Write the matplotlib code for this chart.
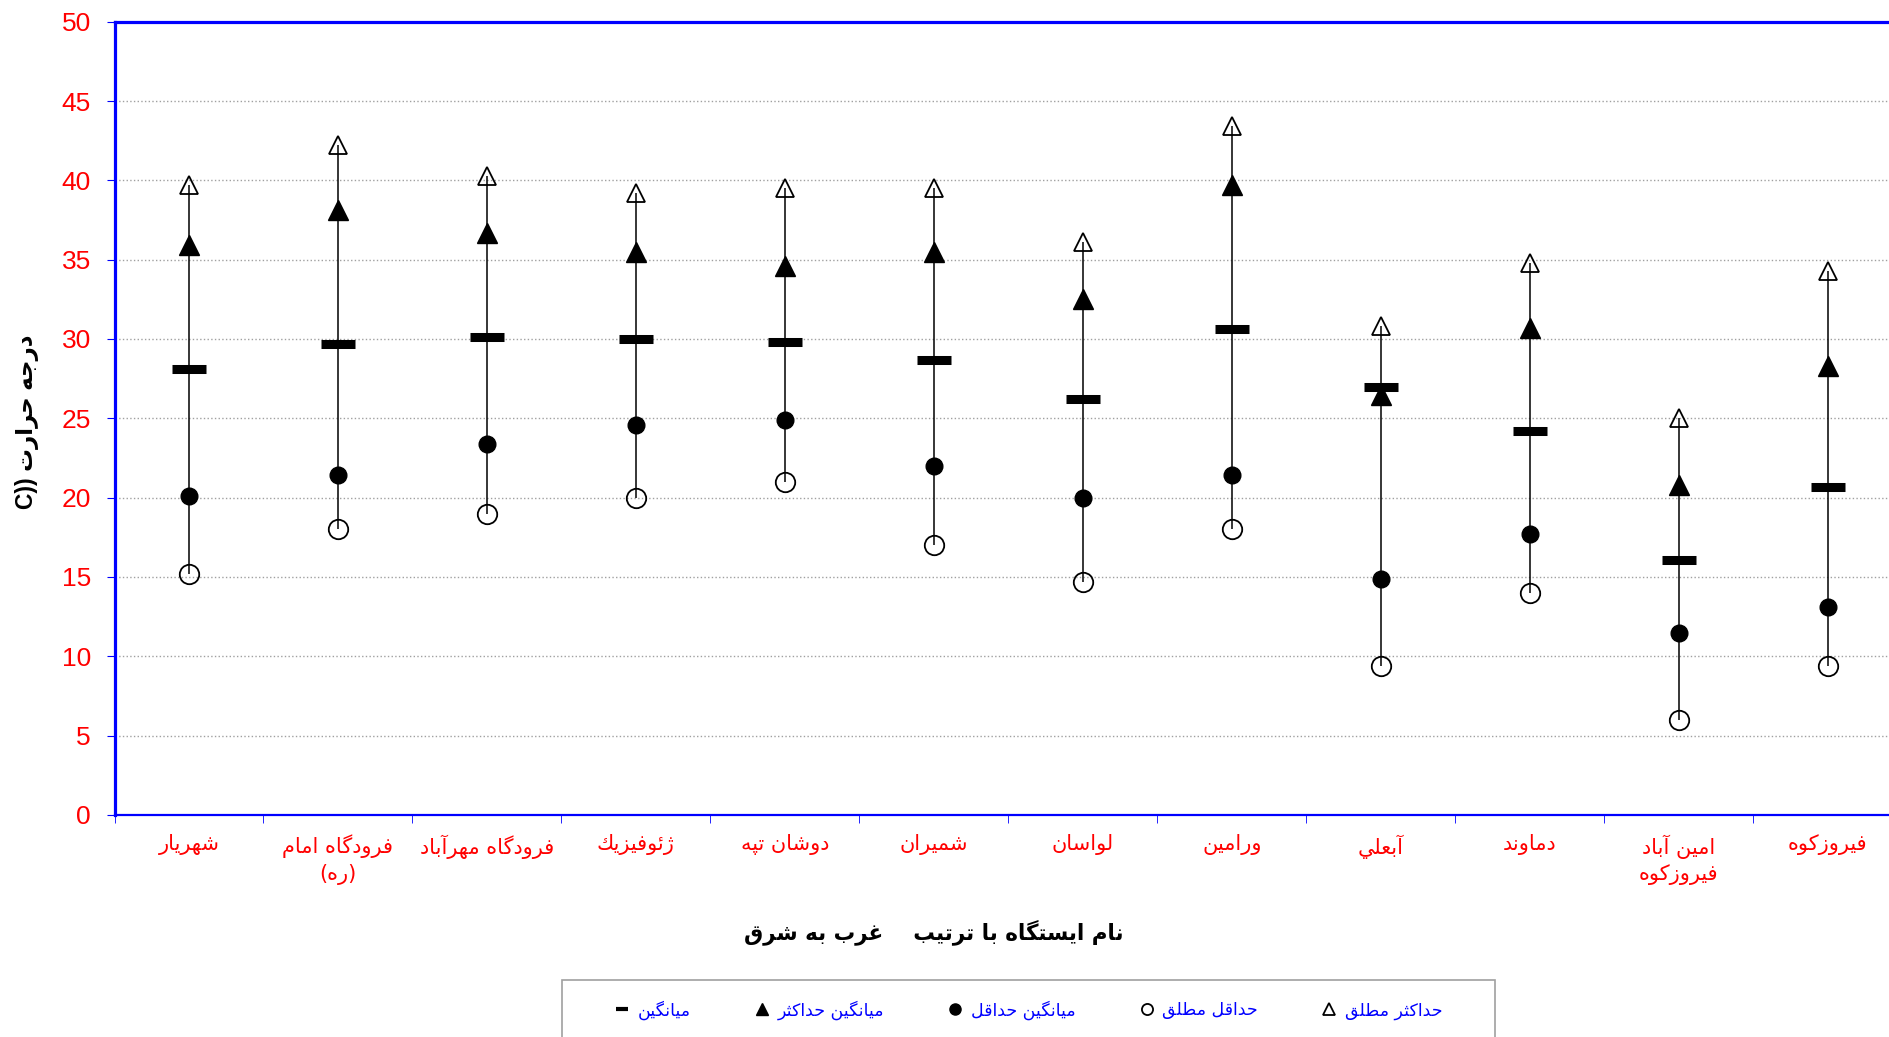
import numpy as np
import matplotlib.pyplot as plt
from matplotlib.patches import Rectangle
from matplotlib.lines import Line2D

# station names (west to east)
stations = ['شهريار', 'فرودگاه امام\n(ره)', 'فرودگاه مهرآباد', 'ژئوفيزيك',
            'دوشان تپه', 'شميران', 'لواسان', 'ورامين', 'آبعلي', 'دماوند',
            'امين آباد\nفيروزكوه', 'فيروزكوه']

abs_max = [39.7, 42.2, 40.3, 39.2, 39.5, 39.5, 36.1, 43.4, 30.8, 34.8, 25.0, 34.3]
mean_max = [35.9, 38.1, 36.7, 35.5, 34.6, 35.5, 32.5, 39.7, 26.5, 30.7, 20.8, 28.3]
mean_all = [28.1, 29.7, 30.1, 30.0, 29.8, 28.7, 26.2, 30.6, 27.0, 24.2, 16.1, 20.7]
mean_min = [20.1, 21.4, 23.4, 24.6, 24.9, 22.0, 20.0, 21.4, 14.9, 17.7, 11.5, 13.1]
abs_min = [15.2, 18.0, 19.0, 20.0, 21.0, 17.0, 14.7, 18.0, 9.4, 14.0, 6.0, 9.4]

legend_names = ['ميانگين', 'ميانگين حداكثر', 'ميانگين حداقل', 'حداقل مطلق', 'حداكثر مطلق']
xlabel = 'نام ايستگاه با ترتيب    غرب به شرق'
ylabel = 'درجه حرارت C))'

# --- tiny arabic shaper (matplotlib has no shaping / bidi) ---
FORMS = {'ء': (0xFE80,), 'آ': (0xFE81, 0xFE82), 'أ': (0xFE83, 0xFE84),
         'ؤ': (0xFE85, 0xFE86), 'إ': (0xFE87, 0xFE88),
         'ئ': (0xFE89, 0xFE8A, 0xFE8B, 0xFE8C), 'ا': (0xFE8D, 0xFE8E)}
start = 0xFE8F
for ch, n in [('ب', 4), ('ة', 2), ('ت', 4), ('ث', 4), ('ج', 4), ('ح', 4), ('خ', 4),
              ('د', 2), ('ذ', 2), ('ر', 2), ('ز', 2), ('س', 4), ('ش', 4), ('ص', 4),
              ('ض', 4), ('ط', 4), ('ظ', 4), ('ع', 4), ('غ', 4), ('ف', 4), ('ق', 4),
              ('ك', 4), ('ل', 4), ('م', 4), ('ن', 4), ('ه', 4), ('و', 2), ('ى', 2),
              ('ي', 4)]:
    FORMS[ch] = tuple(range(start, start + n))
    start += n
FORMS['پ'] = (0xFB56, 0xFB57, 0xFB58, 0xFB59)
FORMS['چ'] = (0xFB7A, 0xFB7B, 0xFB7C, 0xFB7D)
FORMS['ژ'] = (0xFB8A, 0xFB8B)
FORMS['گ'] = (0xFB92, 0xFB93, 0xFB94, 0xFB95)
FORMS['ک'] = (0xFB8E, 0xFB8F, 0xFB90, 0xFB91)
FORMS['ی'] = (0xFBFC, 0xFBFD, 0xFBFE, 0xFBFF)


def shape(word):
    out = []
    for i, ch in enumerate(word):
        f = FORMS.get(ch)
        if f is None or len(f) == 1:
            out.append(ch if f is None else chr(f[0]))
            continue
        prev = word[i - 1] if i > 0 else ''
        nxt = word[i + 1] if i < len(word) - 1 else ''
        jp = prev in FORMS and len(FORMS[prev]) == 4
        jn = len(f) == 4 and nxt in FORMS and len(FORMS[nxt]) > 1
        if jp and jn:
            out.append(chr(f[3]))
        elif jp:
            out.append(chr(f[1]))
        elif jn:
            out.append(chr(f[2]))
        else:
            out.append(chr(f[0]))
    return ''.join(out)


def rtl(text):
    mirror = str.maketrans('()', ')(')
    lines = []
    for line in text.split('\n'):
        vis = []
        for w in reversed(line.split(' ')):
            if any(c in FORMS for c in w):
                vis.append(shape(w)[::-1].translate(mirror))
            else:
                vis.append(w)
        lines.append(' '.join(vis))
    return '\n'.join(lines)


plt.rcParams['font.family'] = ['Liberation Sans', 'DejaVu Sans']

fig = plt.figure(figsize=(18.9, 10.37), dpi=100)
ax = fig.add_axes([0.0606, 0.2141, 0.9458, 0.765])

x = np.arange(len(stations))
ax.vlines(x, abs_min, abs_max, color='black', lw=1.1, zorder=3)
ax.plot(x, abs_max, ls='none', marker='^', ms=13.5, mfc='none', mec='black', mew=1.3, zorder=4)
ax.plot(x, abs_min, ls='none', marker='o', ms=14, mfc='none', mec='black', mew=1.3, zorder=4)
ax.plot(x, mean_min, ls='none', marker='o', ms=12, color='black', zorder=4)
ax.plot(x, mean_max, ls='none', marker='^', ms=15, color='black', zorder=4)
ax.plot(x, mean_all, ls='none', marker='_', ms=25, mew=6.5, color='black', zorder=5)

ax.set_xlim(-0.5, len(stations) - 0.5)
ax.set_ylim(0, 50)
ax.set_yticks(np.arange(0, 51, 5))
ax.yaxis.grid(True, color='#a0a0a0', ls=':', lw=1)
ax.set_axisbelow(True)

ax.set_xticks(x)
ax.set_xticklabels([rtl(s) for s in stations], color='red', fontsize=15,
                   family=['DejaVu Sans'], linespacing=1.35)
ax.set_xticks(np.arange(-0.5, len(stations), 1), minor=True)
ax.tick_params(axis='x', which='major', length=0, pad=14)
ax.tick_params(axis='x', which='minor', length=6, color='blue', direction='out')
ax.tick_params(axis='y', length=6, color='blue', direction='out', labelcolor='red',
               labelsize=19, pad=11)

for side in ['left', 'top']:
    ax.spines[side].set_color('blue')
    ax.spines[side].set_linewidth(2.3)
ax.spines['bottom'].set_color('blue')
ax.spines['bottom'].set_linewidth(1.6)
ax.spines['right'].set_visible(False)

fig.text(934 / 1890, 1 - 932 / 1037, rtl(xlabel), ha='center', va='center',
         fontsize=15.5, fontweight='bold', family=['DejaVu Sans'])
fig.text(27 / 1890, 1 - 422 / 1037, rtl(ylabel), ha='center', va='center',
         rotation=90, fontsize=16.5, fontweight='bold', family=['Liberation Sans', 'DejaVu Sans'])

# legend with a frame cut by the bottom edge, like the source
fig.patches.append(Rectangle((562 / 1890, -0.05), (1495 - 562) / 1890, 0.05 + 57 / 1037,
                             transform=fig.transFigure, fill=False, ec='#a0a0a0', lw=1.2))
handles = [Line2D([], [], ls='none', marker='_', ms=8, mew=3, color='black'),
           Line2D([], [], ls='none', marker='^', ms=8, color='black'),
           Line2D([], [], ls='none', marker='o', ms=8, color='black'),
           Line2D([], [], ls='none', marker='o', ms=8, mfc='none', mec='black', mew=1.3),
           Line2D([], [], ls='none', marker='^', ms=8, mfc='none', mec='black', mew=1.3)]
leg = fig.legend(handles, [rtl(s) for s in legend_names], ncol=5, frameon=False,
                 loc='center', bbox_to_anchor=(1028 / 1890, 1 - 1010 / 1037),
                 columnspacing=3.6, handletextpad=0.4, handlelength=1,
                 prop={'family': 'DejaVu Sans', 'size': 12.5})
for t in leg.get_texts():
    t.set_color('blue')

fig.savefig('out.png', dpi=100)
